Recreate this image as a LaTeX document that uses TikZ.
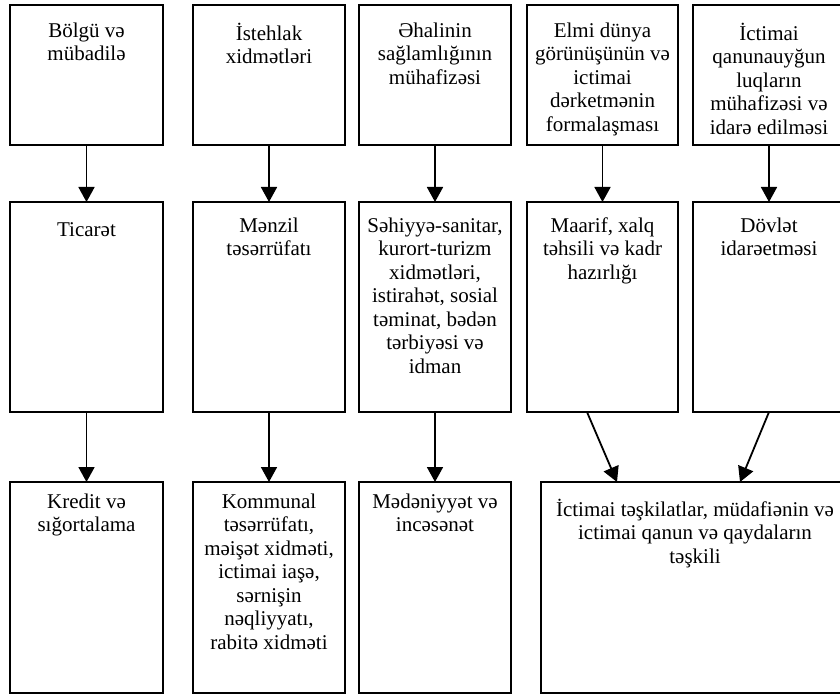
\documentclass[tikz,border=0pt]{standalone}
\usepackage{fontspec}
\setmainfont{Liberation Serif}
\usetikzlibrary{arrows.meta,positioning,calc}

\begin{document}
\begin{tikzpicture}[
        x=1pt, y=-1pt,
        box/.style={rectangle, draw, line width=1.8pt, inner sep=0pt, outer sep=0pt, minimum width=152pt},
        toprow/.style={box, minimum height=140pt},
        midrow/.style={box, minimum height=210pt},
        botrow/.style={box, minimum height=211pt},
        txt/.style={anchor=north, yshift=-#1, align=center, inner sep=0pt, font=\fontsize{21}{23.5}\selectfont, execute at begin node={\rule{0pt}{19pt}}},
        txt/.default=17.7pt,
        arrow/.style={-{Triangle[length=15pt, width=16pt]}, line width=1.8pt}
    ]
        \useasboundingbox (0,0) rectangle (840,695);
        \clip (0,0) rectangle (840,695);

        % Top row
        \node[toprow, minimum width=153pt, label={[txt]north:{Bölgü və\\mübadilə}}] (bolgu) at (86.5,75) {};
        \node[toprow, right=30pt of bolgu, label={[txt]north:{İstehlak\\xidmətləri}}] (istehlak) {};
        \node[toprow, right=14pt of istehlak, label={[txt]north:{Əhalinin\\sağlamlığının\\mühafizəsi}}] (ehali) {};
        \node[toprow, minimum width=151pt, right=16pt of ehali, label={[txt]north:{Elmi dünya\\görünüşünün və\\ictimai\\dərketmənin\\formalaşması}}] (elmi) {};
        \node[toprow, right=15pt of elmi, label={[txt]north:{İctimai\\qanunauyğun\\luqların\\mühafizəsi və\\idarə edilməsi}}] (qanun) {};

        % Middle row
        \node[midrow, minimum width=153pt, below=57pt of bolgu, label={[txt=15.5pt]north:{Ticarət}}] (ticaret) {};
        \node[midrow, below=57pt of istehlak, label={[txt=15.5pt]north:{Mənzil\\təsərrüfatı}}] (menzil) {};
        \node[midrow, below=57pt of ehali, label={[txt=15.5pt]north:{Səhiyyə-sanitar,\\kurort-turizm\\xidmətləri,\\istirahət, sosial\\təminat, bədən\\tərbiyəsi və\\idman}}] (sehiyye) {};
        \node[midrow, minimum width=151pt, below=57pt of elmi, label={[txt=15.5pt]north:{Maarif, xalq\\təhsili və kadr\\hazırlığı}}] (maarif) {};
        \node[midrow, below=57pt of qanun, label={[txt=15.5pt]north:{Dövlət\\idarəetməsi}}] (dovlet) {};

        % Bottom row
        \node[botrow, minimum width=153pt, below=70pt of ticaret, label={[txt=11.7pt]north:{Kredit və\\sığortalama}}] (kredit) {};
        \node[botrow, below=70pt of menzil, label={[txt=11.7pt]north:{Kommunal\\təsərrüfatı,\\məişət xidməti,\\ictimai iaşə,\\sərnişin\\nəqliyyatı,\\rabitə xidməti}}] (kommunal) {};
        \node[botrow, below=70pt of sehiyye, label={[txt=11.7pt]north:{Mədəniyyət və\\incəsənət}}] (medeniyyet) {};
        \node[botrow, minimum width=308pt, anchor=north west, label={[txt=16.7pt]north:{İctimai təşkilatlar, müdafiənin və\\ictimai qanun və qaydaların\\təşkili}}] (teskilat) at ($(maarif.south west)+(14,70)$) {};

        % Arrows
        \draw[arrow] (bolgu) -- (ticaret);
        \draw[arrow] (istehlak) -- (menzil);
        \draw[arrow] (ehali) -- (sehiyye);
        \draw[arrow] (elmi) -- (maarif);
        \draw[arrow] (qanun) -- (dovlet);

        \draw[arrow] (ticaret) -- (kredit);
        \draw[arrow] (menzil) -- (kommunal);
        \draw[arrow] (sehiyye) -- (medeniyyet);
        \draw[arrow] ($(maarif.south)+(-15.5,0)$) -- ($(teskilat.north west)+(76,0)$);
        \draw[arrow] (dovlet.south) -- ($(teskilat.north west)+(199,0)$);
    \end{tikzpicture}
\end{document}
